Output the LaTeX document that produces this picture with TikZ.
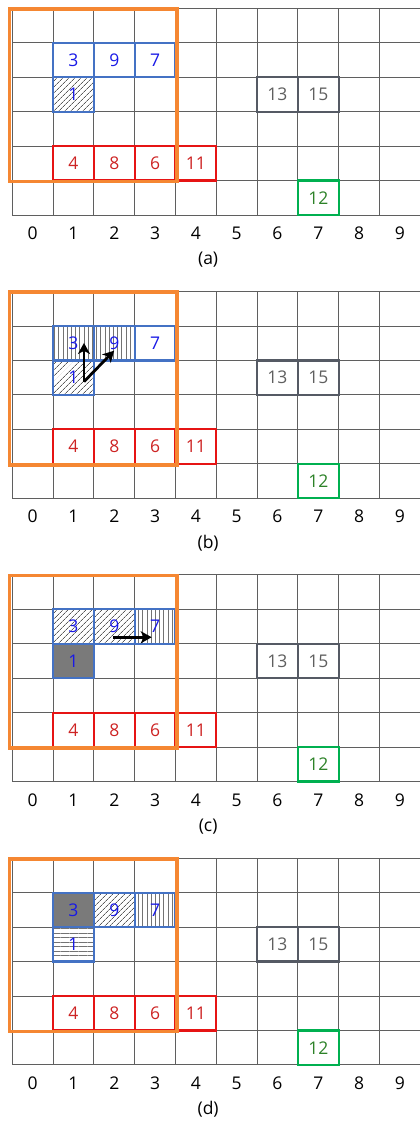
\documentclass[tikz,border=0pt]{standalone}
\usepackage{fontspec}
\setmainfont{Open Sans}
\definecolor{gridgray}{RGB}{95, 95, 95}
\definecolor{boxorange}{RGB}{245, 135, 50}
\definecolor{cellblue}{RGB}{68, 114, 196}
\definecolor{numblue}{RGB}{25, 25, 230}
\definecolor{cellred}{RGB}{230, 20, 20}
\definecolor{numred}{RGB}{205, 35, 35}
\definecolor{cellgray}{RGB}{85, 90, 100}
\definecolor{numgray}{RGB}{95, 95, 95}
\definecolor{cellgreen}{RGB}{0, 176, 80}
\definecolor{numgreen}{RGB}{45, 130, 40}
\definecolor{visitgray}{RGB}{122, 122, 122}
\usepackage{tikz}
\usetikzlibrary{arrows.meta, patterns.meta}

\tikzset{
  cell/.style={minimum width=40.8pt, minimum height=34.45pt, inner sep=0pt, outer sep=0pt,
               line width=2.2pt, font=\fontsize{17.5}{17.5}\selectfont},
  bluecell/.style={cell, draw=cellblue, text=numblue},
  redcell/.style={cell, draw=cellred, text=numred},
  graycell/.style={cell, draw=cellgray, text=numgray},
  greencell/.style={cell, draw=cellgreen, text=numgreen},
  hatched/.style={pattern={Lines[angle=45, distance=4pt, line width=0.8pt]}, pattern color=gray!70!black},
  vlines/.style={pattern={Lines[angle=90, distance=4.2pt, line width=0.6pt]}, pattern color=gray!90!black},
  hlines/.style={pattern={Lines[angle=0, distance=4.5pt, line width=0.6pt]}, pattern color=gray!90!black},
  visited/.style={fill=visitgray},
  gridline/.style={gridgray, line width=0.9pt},
  orangebox/.style={boxorange, line width=3.8pt},
  axislabel/.style={font=\fontsize{17.5}{17.5}\selectfont, inner sep=0pt},
  move/.style={-{Stealth[length=11pt, width=12pt, inset=3pt]}, line width=2.8pt, black},
}

\begin{document}
\begin{tikzpicture}[x=40.8pt, y=-34.45pt]
  \useasboundingbox (-0.3015, -0.2409) rectangle (9.993, 32.33);

  % grid, axis, fixed cells of every panel
  \foreach \p/\l in {0/a, 1/b, 2/c, 3/d} {
    \begin{scope}[yshift=-\p*8.224*34.45pt]
      \foreach \r in {0,...,6}
        \draw[gridline] (0, \r) -- (9.993, \r);
      \foreach \c in {0,...,9}
        \draw[gridline] (\c, 0) -- (\c, 6);
      \foreach \i in {0,...,9}
        \node[axislabel] (ax-\p-\i) at (\i+0.5, 6.53) {\i};
      \node[axislabel] (lab-\p) at (4.8, 7.3) {(\l)};

      % red row
      \node[redcell] (c4-\p) at (1.5, 4.5) {4};
      \node[redcell] (c8-\p) at (2.5, 4.5) {8};
      \node[redcell] (c6-\p) at (3.5, 4.5) {6};
      \node[redcell] (c11-\p) at (4.5, 4.5) {11};
      % gray pair
      \node[graycell] (c13-\p) at (6.5, 2.5) {13};
      \node[graycell] (c15-\p) at (7.5, 2.5) {15};
      % green
      \node[greencell] (c12-\p) at (7.5, 5.5) {12};
    \end{scope}
  }

  % (a)
  \node[bluecell] (c3-0) at (1.5, 1.5) {3};
  \node[bluecell] (c9-0) at (2.5, 1.5) {9};
  \node[bluecell] (c7-0) at (3.5, 1.5) {7};
  \node[bluecell, hatched] (c1-0) at (1.5, 2.5) {1};

  % (b)
  \begin{scope}[yshift=-8.224*34.45pt]
    \node[bluecell, vlines] (c3-1) at (1.5, 1.5) {3};
    \node[bluecell, vlines] (c9-1) at (2.5, 1.5) {9};
    \node[bluecell] (c7-1) at (3.5, 1.5) {7};
    \node[bluecell, hatched] (c1-1) at (1.5, 2.5) {1};
    \coordinate (from-1) at (1.757, 2.615);
    \coordinate (up-1) at (1.757, 1.49);
    \coordinate (diag-1) at (2.495, 1.716);
    \draw[move] (from-1) -- (up-1);
    \draw[move] (from-1) -- (diag-1);
  \end{scope}

  % (c)
  \begin{scope}[yshift=-2*8.224*34.45pt]
    \node[bluecell, hatched] (c3-2) at (1.5, 1.5) {3};
    \node[bluecell, hatched] (c9-2) at (2.5, 1.5) {9};
    \node[bluecell, vlines] (c7-2) at (3.5, 1.5) {7};
    \node[bluecell, visited] (c1-2) at (1.5, 2.5) {1};
    \coordinate (from-2) at (2.475, 1.81);
    \coordinate (to-2) at (3.417, 1.81);
    \draw[move] (from-2) -- (to-2);
  \end{scope}

  % (d)
  \begin{scope}[yshift=-3*8.224*34.45pt]
    \node[bluecell, visited] (c3-3) at (1.5, 1.5) {3};
    \node[bluecell, hatched] (c9-3) at (2.5, 1.5) {9};
    \node[bluecell, vlines] (c7-3) at (3.5, 1.5) {7};
    \node[bluecell, hlines] (c1-3) at (1.5, 2.5) {1};
  \end{scope}

  % orange frames on top
  \foreach \p in {0,...,3}
    \draw[orangebox] (-0.07, 0.02+\p*8.224) rectangle (4.03, 5.03+\p*8.224);
\end{tikzpicture}
\end{document}
